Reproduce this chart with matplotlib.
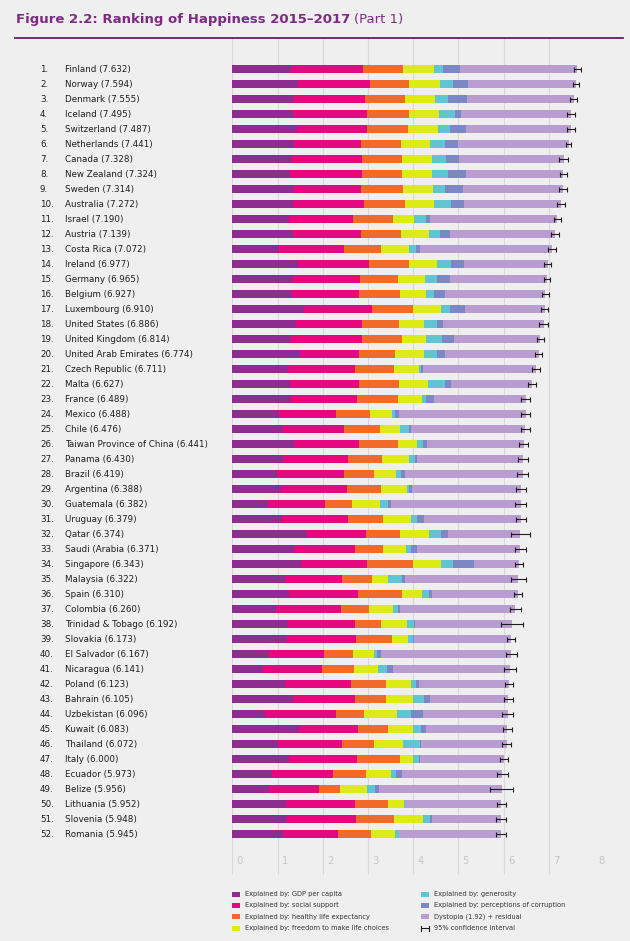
"""Ranking of happiness 2015-2017 (part 1) as a stacked horizontal bar chart
"""
import matplotlib
matplotlib.use('Agg')
import matplotlib.pyplot as plt
import matplotlib.transforms as mtransforms
from matplotlib.patches import Rectangle
import numpy as np

countries = ['Finland', 'Norway', 'Denmark', 'Iceland', 'Switzerland', 'Netherlands',
             'Canada', 'New Zealand', 'Sweden', 'Australia', 'Israel', 'Austria',
             'Costa Rica', 'Ireland', 'Germany', 'Belgium', 'Luxembourg', 'United States',
             'United Kingdom', 'United Arab Emirates', 'Czech Republic', 'Malta', 'France',
             'Mexico', 'Chile', 'Taiwan Province of China', 'Panama', 'Brazil', 'Argentina',
             'Guatemala', 'Uruguay', 'Qatar', 'Saudi (Arabia', 'Singapore', 'Malaysia',
             'Spain', 'Colombia', 'Trinidad & Tobago', 'Slovakia', 'El Salvador',
             'Nicaragua', 'Poland', 'Bahrain', 'Uzbekistan', 'Kuwait', 'Thailand', 'Italy',
             'Ecuador', 'Belize', 'Lithuania', 'Slovenia', 'Romania']

scores = [7.632, 7.594, 7.555, 7.495, 7.487, 7.441, 7.328, 7.324, 7.314, 7.272, 7.190,
          7.139, 7.072, 6.977, 6.965, 6.927, 6.910, 6.886, 6.814, 6.774, 6.711, 6.627,
          6.489, 6.488, 6.476, 6.441, 6.430, 6.419, 6.388, 6.382, 6.379, 6.374, 6.371,
          6.343, 6.322, 6.310, 6.260, 6.192, 6.173, 6.167, 6.141, 6.123, 6.105, 6.096,
          6.083, 6.072, 6.000, 5.973, 5.956, 5.952, 5.948, 5.945]

gdp = [1.305, 1.456, 1.351, 1.343, 1.420, 1.361, 1.330, 1.268, 1.355, 1.340, 1.244,
       1.341, 1.010, 1.448, 1.340, 1.324, 1.576, 1.398, 1.301, 1.503, 1.233, 1.270,
       1.293, 1.038, 1.131, 1.365, 1.112, 0.986, 1.073, 0.781, 1.093, 1.649, 1.379,
       1.529, 1.161, 1.251, 0.960, 1.223, 1.210, 0.806, 0.668, 1.176, 1.338, 0.719,
       1.474, 1.016, 1.264, 0.889, 0.807, 1.197, 1.219, 1.116]
social = [1.592, 1.582, 1.590, 1.644, 1.549, 1.488, 1.532, 1.601, 1.501, 1.573, 1.433,
          1.504, 1.459, 1.583, 1.474, 1.483, 1.520, 1.471, 1.559, 1.310, 1.489, 1.525,
          1.466, 1.252, 1.331, 1.436, 1.438, 1.474, 1.468, 1.268, 1.459, 1.303, 1.331,
          1.451, 1.258, 1.538, 1.439, 1.492, 1.537, 1.231, 1.319, 1.448, 1.366, 1.584,
          1.301, 1.417, 1.501, 1.330, 1.101, 1.527, 1.506, 1.219]
health = [0.874, 0.861, 0.868, 0.914, 0.927, 0.878, 0.896, 0.876, 0.913, 0.910, 0.888,
          0.891, 0.817, 0.876, 0.861, 0.894, 0.896, 0.819, 0.883, 0.790, 0.854, 0.884,
          0.908, 0.761, 0.808, 0.857, 0.759, 0.675, 0.744, 0.608, 0.771, 0.748, 0.633,
          1.008, 0.669, 0.965, 0.635, 0.564, 0.776, 0.639, 0.700, 0.781, 0.698, 0.605,
          0.675, 0.707, 0.946, 0.736, 0.474, 0.716, 0.856, 0.726]
freedom = [0.681, 0.686, 0.683, 0.677, 0.660, 0.638, 0.653, 0.669, 0.659, 0.647, 0.464,
           0.617, 0.632, 0.614, 0.586, 0.583, 0.632, 0.547, 0.533, 0.640, 0.543, 0.645,
           0.520, 0.479, 0.431, 0.418, 0.597, 0.493, 0.570, 0.604, 0.625, 0.654, 0.509,
           0.631, 0.356, 0.449, 0.531, 0.575, 0.354, 0.461, 0.527, 0.546, 0.594, 0.724,
           0.554, 0.637, 0.281, 0.556, 0.593, 0.350, 0.633, 0.528]
generosity = [0.202, 0.286, 0.284, 0.353, 0.256, 0.333, 0.321, 0.365, 0.285, 0.361, 0.262,
              0.242, 0.143, 0.307, 0.273, 0.188, 0.196, 0.291, 0.354, 0.290, 0.064, 0.376,
              0.098, 0.069, 0.197, 0.151, 0.125, 0.110, 0.062, 0.179, 0.130, 0.256, 0.098,
              0.261, 0.311, 0.142, 0.099, 0.171, 0.118, 0.065, 0.208, 0.108, 0.243, 0.328,
              0.167, 0.364, 0.137, 0.114, 0.183, 0.026, 0.160, 0.088]
corruption = [0.393, 0.340, 0.408, 0.138, 0.357, 0.295, 0.291, 0.389, 0.383, 0.302, 0.082,
              0.224, 0.101, 0.306, 0.280, 0.240, 0.321, 0.133, 0.272, 0.172, 0.034, 0.142,
              0.176, 0.095, 0.061, 0.078, 0.063, 0.088, 0.054, 0.071, 0.155, 0.171, 0.127,
              0.457, 0.059, 0.074, 0.039, 0.019, 0.014, 0.082, 0.128, 0.064, 0.123, 0.259,
              0.106, 0.029, 0.028, 0.120, 0.089, 0.006, 0.051, 0.001]
# half width of the 95% confidence interval
ci_half = [0.075, 0.065, 0.075, 0.095, 0.085, 0.055, 0.10, 0.08, 0.09, 0.09, 0.08, 0.08,
           0.09, 0.08, 0.065, 0.08, 0.075, 0.10, 0.08, 0.085, 0.09, 0.085, 0.10, 0.10,
           0.10, 0.10, 0.12, 0.12, 0.11, 0.12, 0.11, 0.21, 0.12, 0.08, 0.165, 0.09, 0.12,
           0.24, 0.09, 0.12, 0.125, 0.085, 0.10, 0.12, 0.10, 0.10, 0.09, 0.115, 0.26,
           0.10, 0.11, 0.11]

legend_labels = ['Explained by: GDP per capita', 'Explained by: social support',
                 'Explained by: healthy life expectancy',
                 'Explained by: freedom to make life choices', 'Explained by: generosity',
                 'Explained by: perceptions of corruption', 'Dystopia (1.92) + residual']
colors = ['#8C2D8F', '#E5087F', '#F26A2A', '#DCEB16', '#62C3D2', '#7C88C6', '#B99CD0']
ticks = [0, 1, 2, 3, 4, 5, 6, 7, 8]

BG = '#EFEFEF'
TITLE_COLOR = '#7E2A84'

scores = np.array(scores)
parts = [np.array(p) for p in (gdp, social, health, freedom, generosity, corruption)]
dystopia = scores - np.sum(parts, axis=0)
parts.append(dystopia)

fig = plt.figure(figsize=(6.3, 9.41), dpi=100, facecolor=BG)
W, H = 630.0, 941.0

# axes area in pixels: x 0 at 232.3, 8 at 594; y top 38, bottom 875
ax = fig.add_axes([232.3 / W, 1 - 875 / H, (594 - 232.3) / W, (875 - 38) / H])
ax.set_facecolor(BG)
ax.set_xlim(0, 8)
ax.set_ylim(53.73, -2.07)
for s in ax.spines.values():
    s.set_visible(False)
ax.set_xticks([])
ax.set_yticks([])

for t in ticks:
    ax.axvline(t, color='#D9D9D9', lw=0.8, zorder=0)
    ax.text(t + 0.095, 52.8, str(t), color='#C6C6C6', fontsize=7.3, ha='left', va='center')

y = np.arange(len(countries))
left = np.zeros(len(countries))
for vals, col in zip(parts, colors):
    ax.barh(y, vals, left=left, height=0.58, color=col, edgecolor='none', zorder=2)
    left += vals

ax.errorbar(scores, y, xerr=ci_half, fmt='none', ecolor='#1E1E1E', elinewidth=0.8,
            capsize=1.8, capthick=0.8, zorder=3)

# rank and country labels
trans = mtransforms.blended_transform_factory(fig.transFigure, ax.transData)
for i, (c, sc) in enumerate(zip(countries, scores)):
    ax.text(40 / W, i, f'{i + 1}.', transform=trans, fontsize=6.3, color='#1E1E1E',
            ha='left', va='center')
    ax.text(65 / W, i, f'{c} ({sc:.3f})', transform=trans, fontsize=6.3, color='#1E1E1E',
            ha='left', va='center')

# title and rule
t1 = fig.text(16 / W, 1 - 19 / H, 'Figure 2.2: Ranking of Happiness 2015\u20132017',
              fontsize=9.5, fontweight='bold', color=TITLE_COLOR, ha='left', va='center')
fig.canvas.draw()
bb = t1.get_window_extent()
fig.text(bb.x1 / W + 4 / W, 1 - 19 / H, '(Part 1)', fontsize=9.5, color=TITLE_COLOR,
         ha='left', va='center')
fig.add_artist(plt.Line2D([15 / W, 623 / W], [1 - 37.5 / H, 1 - 37.5 / H],
                          color='#5E2163', lw=1.3))

# legend, two columns drawn by hand
rows_y = [894, 905, 916.5, 928]
positions = [(232, rows_y[0]), (232, rows_y[1]), (232, rows_y[2]), (232, rows_y[3]),
             (421, rows_y[0]), (421, rows_y[1]), (421, rows_y[2])]
for (px, py), lab, col in zip(positions, legend_labels, colors):
    fig.add_artist(Rectangle((px / W, 1 - (py + 2.5) / H), 8 / W, 5 / H,
                             transform=fig.transFigure, facecolor=col, edgecolor='none'))
    fig.text((px + 13) / W, 1 - py / H, lab, fontsize=4.8, color='#333333',
             ha='left', va='center')
# confidence interval glyph
cy = 1 - rows_y[3] / H
fig.add_artist(plt.Line2D([421 / W, 429 / W], [cy, cy], color='#1E1E1E', lw=0.8))
for px in (421, 429):
    fig.add_artist(plt.Line2D([px / W, px / W], [cy - 2.5 / H, cy + 2.5 / H],
                              color='#1E1E1E', lw=0.8))
fig.text(434 / W, cy, '95% confidence interval', fontsize=4.8, color='#333333',
         ha='left', va='center')

fig.savefig('out.png', dpi=100, facecolor=BG)
plt.close(fig)
